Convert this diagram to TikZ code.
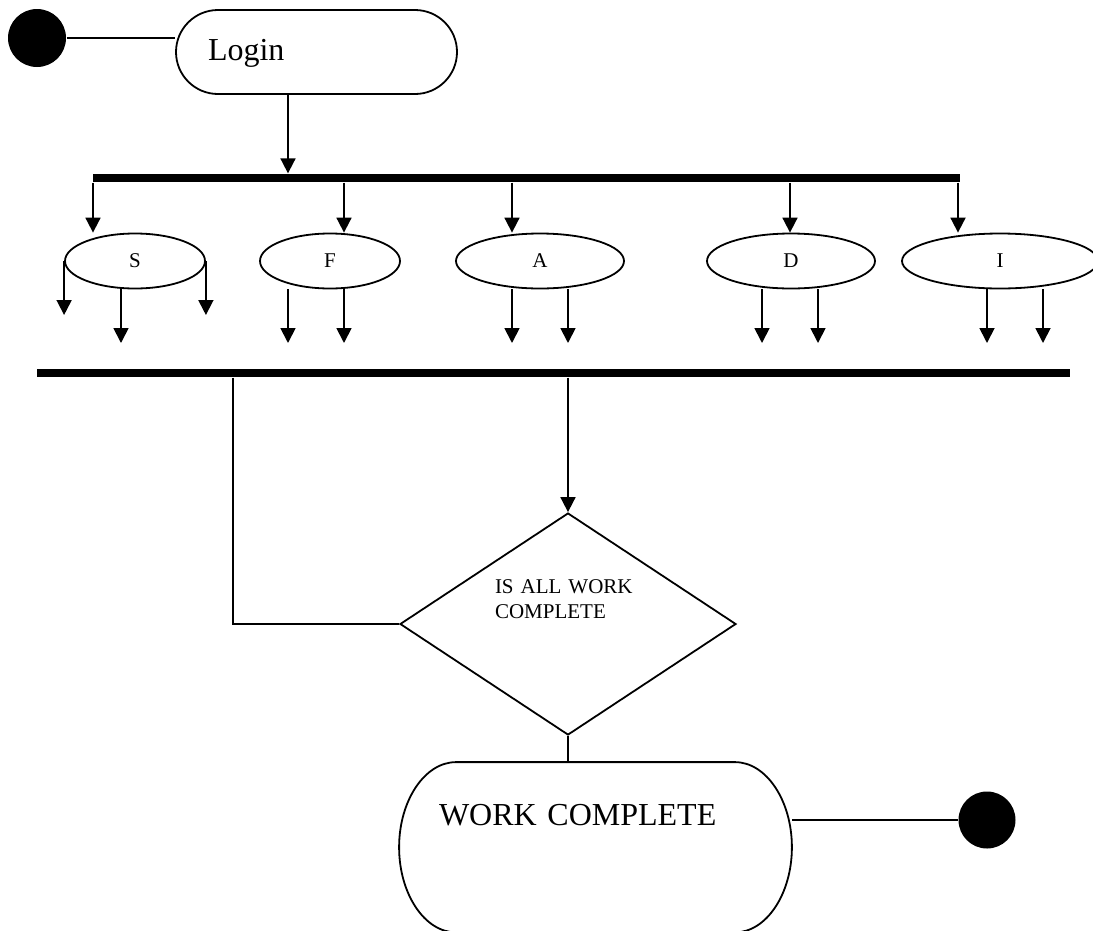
\documentclass[tikz,border=0pt]{standalone}
\usepackage{fontspec}
\setmainfont{Liberation Serif}
\usetikzlibrary{shapes.geometric,arrows.meta,calc}

\begin{document}
\begin{tikzpicture}[x=1pt,y=-1pt,line width=1.8pt,
    flow/.style={-{Triangle[width=15pt,length=15pt]}},
    dot/.style={circle,fill=black,inner sep=0pt,minimum size=58pt},
    bar/.style={rectangle,fill=black,inner sep=0pt,minimum height=7.5pt},
    activity/.style={ellipse,draw,inner sep=0pt,minimum height=55pt,font=\fontsize{21}{25}\selectfont}]
    \useasboundingbox (0,0) rectangle (1093,930);

    \node[dot] (start) at (37,38) {};
    \node[draw,rounded corners=42pt,inner xsep=32pt,inner ysep=0pt,text width=217pt,align=left,
        text height=50pt,text depth=34pt,font=\fontsize{32}{38}\selectfont] (login) at (316.5,52) {Login};
    \draw (start.east) -- (start.east -| login.west);

    \node[bar,minimum width=867pt] (fork) at (526.5,178) {};
    \draw[flow] (288,0 |- login.south) -- (288,0 |- fork.north);

    \node[activity,minimum width=140pt] (S) at (135,261) {S};
    \node[activity,minimum width=140pt] (F) at (330,261) {F};
    \node[activity,minimum width=168pt] (A) at (540,261) {A};
    \node[activity,minimum width=168pt] (D) at (791,261) {D};
    \node[activity,minimum width=196pt] (I) at (1000,261) {I};

    \foreach \n/\x in {S/93,F/344,A/512,D/790,I/958}
        \draw[flow] (\x,0 |- fork.south) -- (\x,0 |- \n.north);

    \draw[flow] (S.west) -- (S.west |- 0,315);
    \draw[flow] (S.east) -- (S.east |- 0,315);
    \foreach \n/\x in {S/121,F/288,F/344,A/512,A/568,D/762,D/818,I/987,I/1043}
        \draw[flow] (\x,0 |- \n.south) -- (\x,343);

    \node[bar,minimum width=1033pt] (join) at (553.5,373) {};

    \node[diamond,draw,aspect=1.5,minimum width=336pt,minimum height=222pt,inner sep=0pt,
        text width=146pt,align=left,text height=14pt,text depth=76pt,
        font=\fontsize{21}{25}\selectfont] (check) at (568,624) {IS ALL WORK\\COMPLETE};
    \draw (233,0 |- join.south) |- (check.west);
    \draw[flow] (check.north |- join.south) -- (check.north);

    \node[inner xsep=39pt,inner ysep=0pt,text width=313pt,align=left,text height=62pt,text depth=106.5pt,
        font=\fontsize{32}{38}\selectfont] (done) at (595.5,847.25) {WORK COMPLETE};
    \draw ($(done.north west)+(57,0)$) -- ($(done.north east)+(-57,0)$)
        .. controls +(31.5,0) and +(0,-46.5) .. (done.east)
        .. controls +(0,46.5) and +(31.5,0) .. ($(done.south east)+(-57,0)$)
        -- ($(done.south west)+(57,0)$)
        .. controls +(-31.5,0) and +(0,46.5) .. (done.west)
        .. controls +(0,-46.5) and +(-31.5,0) .. ($(done.north west)+(57,0)$) -- cycle;
    \draw (check.south) -- (check.south |- done.north);

    \node[dot,minimum size=57pt] (finish) at (987,820) {};
    \draw (finish.west) -- (finish.west -| done.east);
\end{tikzpicture}
\end{document}
